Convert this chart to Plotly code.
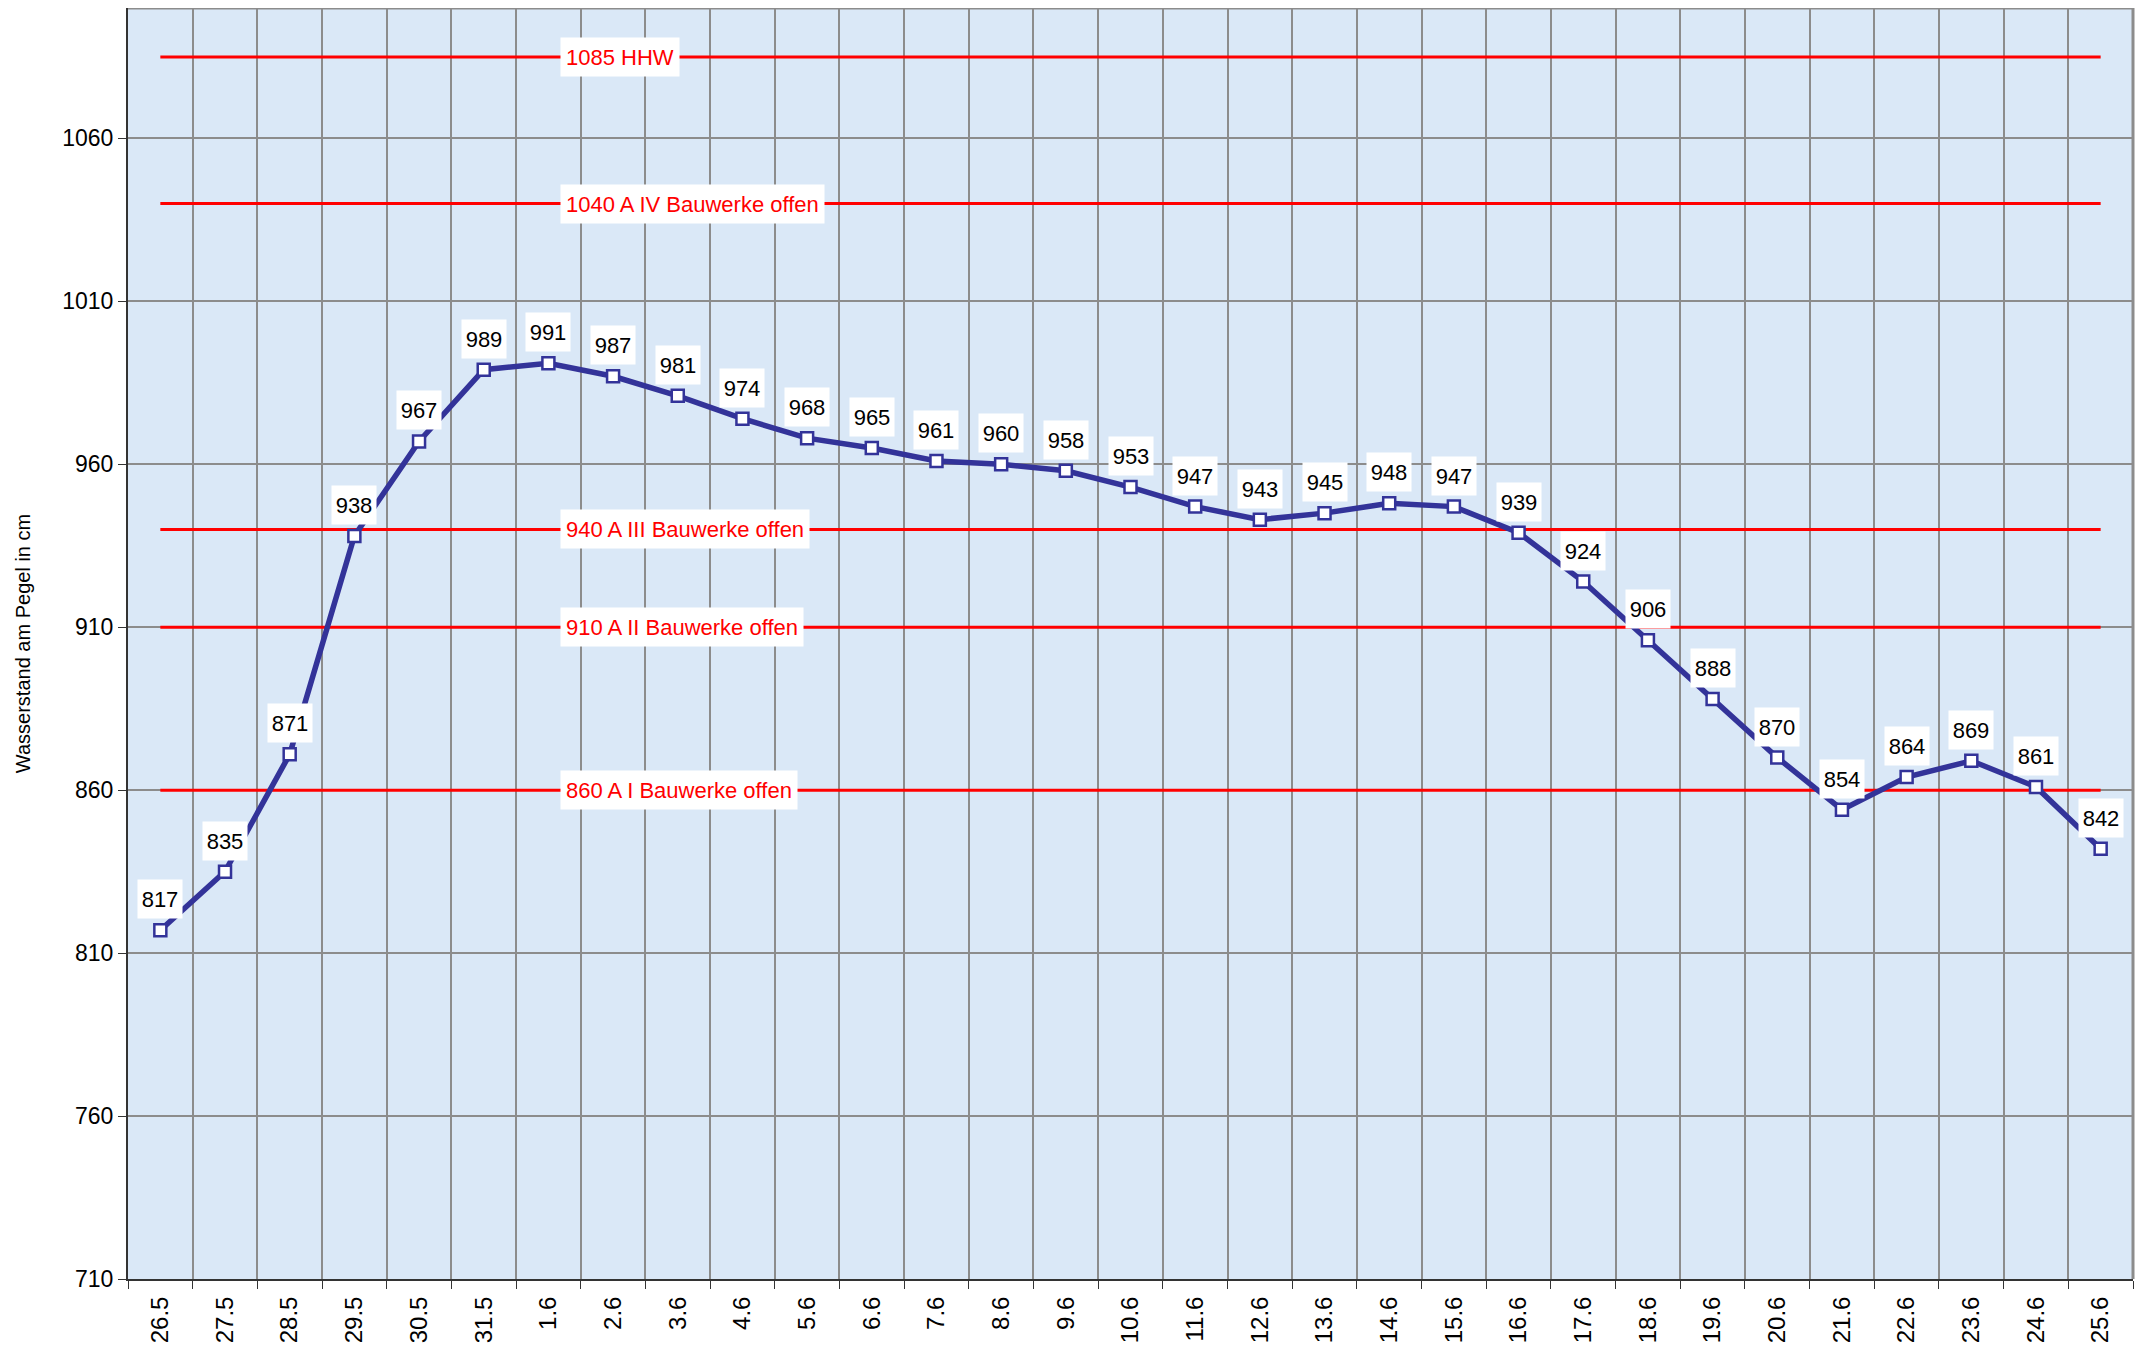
import plotly.graph_objects as go

dates = ["26.5", "27.5", "28.5", "29.5", "30.5", "31.5", "1.6", "2.6", "3.6", "4.6",
         "5.6", "6.6", "7.6", "8.6", "9.6", "10.6", "11.6", "12.6", "13.6", "14.6",
         "15.6", "16.6", "17.6", "18.6", "19.6", "20.6", "21.6", "22.6", "23.6", "24.6", "25.6"]
levels = [817, 835, 871, 938, 967, 989, 991, 987, 981, 974,
          968, 965, 961, 960, 958, 953, 947, 943, 945, 948,
          947, 939, 924, 906, 888, 870, 854, 864, 869, 861, 842]

threshold_values = [1085, 1040, 940, 910, 860]
threshold_labels = ["1085 HHW", "1040 A IV Bauwerke offen", "940 A III Bauwerke offen",
                    "910 A II Bauwerke offen", "860 A I Bauwerke offen"]

y_ticks = [710, 760, 810, 860, 910, 960, 1010, 1060]

FONT = "Liberation Sans, Arial, sans-serif"
NAVY = "#333399"

fig = go.Figure()

for v in threshold_values:
    fig.add_trace(go.Scatter(
        x=[dates[0], dates[-1]], y=[v, v], mode="lines",
        line=dict(color="#ff0000", width=3), hoverinfo="skip", showlegend=False))

fig.add_trace(go.Scatter(
    x=dates, y=levels, mode="lines+markers",
    line=dict(color=NAVY, width=5.5),
    marker=dict(symbol="square", size=12, color="white",
                line=dict(color=NAVY, width=2.5)),
    showlegend=False))

annotations = []
for i, v in enumerate(levels):
    annotations.append(dict(
        x=i, y=v, xref="x", yref="y", text=str(v), showarrow=False,
        yshift=31, bgcolor="white", borderpad=2, width=40, height=34,
        align="center", valign="middle",
        font=dict(family=FONT, size=22, color="black")))

for v, lab in zip(threshold_values, threshold_labels):
    annotations.append(dict(
        x=0.2155, y=v, xref="paper", yref="y", text=lab, showarrow=False,
        xanchor="left", yanchor="middle", bgcolor="white", borderpad=5, height=28,
        valign="middle",
        font=dict(family=FONT, size=22, color="#ff0000")))

fig.update_layout(
    width=2135, height=1348,
    margin=dict(l=120, r=10, t=0, b=77, autoexpand=False),
    paper_bgcolor="white",
    plot_bgcolor="#dae8f7",
    font=dict(family=FONT, color="black"),
    annotations=annotations,
    shapes=[
        dict(type="line", xref="paper", yref="paper", x0=0, x1=1, y0=1, y1=1,
             line=dict(color="#8c8c8c", width=3)),
        dict(type="line", xref="paper", yref="paper", x0=1, x1=1, y0=0, y1=1,
             line=dict(color="#8c8c8c", width=3)),
    ],
)

fig.update_xaxes(
    type="category", categoryorder="array", categoryarray=dates,
    tickson="boundaries", range=[-0.5, len(dates) - 0.5], automargin=False,
    showgrid=True, gridcolor="#8c8c8c", gridwidth=2,
    showline=True, linecolor="#333333", linewidth=2,
    ticks="outside", ticklen=8, tickcolor="#333333", tickwidth=1,
    ticklabelstandoff=6,
    tickangle=-90, tickfont=dict(family=FONT, size=24, color="black"),
)

fig.update_yaxes(
    range=[710, 1100], tickvals=y_ticks, automargin=False,
    showgrid=True, gridcolor="#8c8c8c", gridwidth=2, zeroline=False,
    showline=True, linecolor="#333333", linewidth=2,
    ticks="outside", ticklen=8, tickcolor="#333333", tickwidth=1,
    tickfont=dict(family=FONT, size=23, color="black"),
    title=dict(text="Wasserstand am Pegel in cm", font=dict(family=FONT, size=20, color="black"),
               standoff=26),
)

fig.write_html("out.html")
